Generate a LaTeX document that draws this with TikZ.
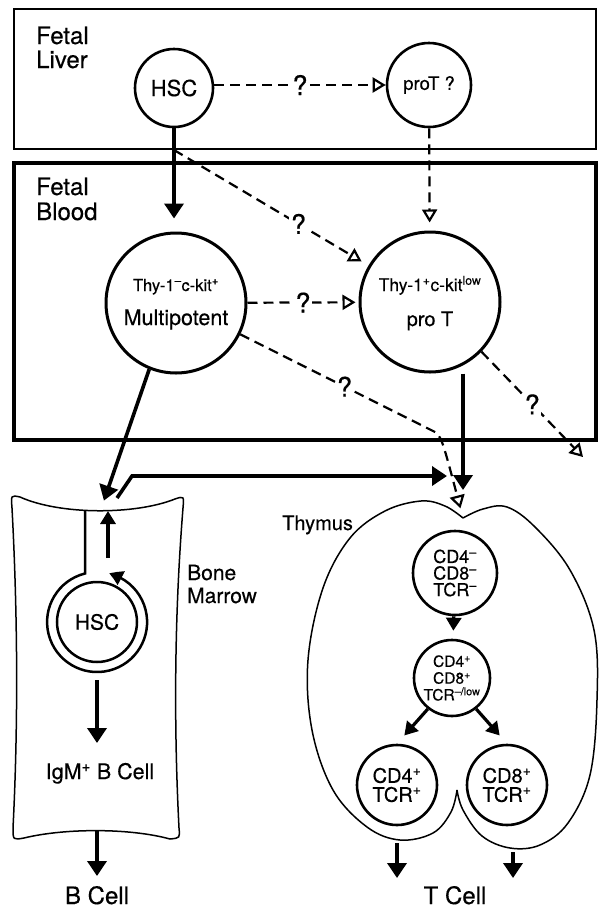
\documentclass[tikz,border=0pt]{standalone}
\usepackage{fontspec}
\setmainfont{TeX Gyre Heros}[FakeBold=0.4]
\usetikzlibrary{arrows.meta,calc,bending}
\newcommand\fsz[2]{\fontsize{#1}{#2}\selectfont}
\newcommand\supx[1]{\textsuperscript{#1}}
\tikzset{
 cell/.style={circle, draw, line width=2.6pt, inner sep=0pt, align=center},
 solidarr/.style={line width=3.6pt, line join=miter, -{Triangle[length=15pt,width=19pt]}},
 smallarr/.style={line width=3.2pt, -{Triangle[length=13pt,width=15pt]}},
 dasharr/.style={line width=2.2pt, dash pattern=on 10pt off 6pt, -{Triangle[open,length=13pt,width=15pt,line width=2.2pt]}},
 qmark/.style={fill=white, inner sep=1.5pt, font=\fsz{27}{27}},
 lab/.style={inner sep=0pt, anchor=base},
 organ/.style={line width=1.5pt},
}
\begin{document}
\begin{tikzpicture}[x=1pt,y=-1pt]
\useasboundingbox (0,0) rectangle (599,911);
% compartments
\draw[line width=1.5pt] (14,9) rectangle (596,149);
\draw[line width=4pt] (14,163) rectangle (596,440);
\node[lab, anchor=base west, font=\fsz{24}{24}] (fl1) at (36,44) {Fetal};
\node[lab, anchor=base west, font=\fsz{24}{24}] (fl2) at (36,68) {Liver};
\node[lab, anchor=base west, font=\fsz{24}{24}] (fb1) at (36,195) {Fetal};
\node[lab, anchor=base west, font=\fsz{24}{24}] (fb2) at (36,220) {Blood};

% cells
\node[cell, minimum size=78pt, font=\fsz{22}{22}] (hsc) at (174,88) {HSC};
\node[cell, minimum size=84pt, font=\fsz{18.5}{18.5}] (protq) at (429,85) {proT ?};
\node[cell, minimum size=140pt, line width=3pt] (multi) at (176,303) {};
\node[lab, font=\fsz{16.5}{16.5}] (multi1) at (176,291) {Thy-1\supx{–}c-kit\supx{+}};
\node[lab, font=\fsz{21.5}{21.5}] (multi2) at (176,325) {Multipotent};
\node[cell, minimum size=140pt, line width=3pt] (prot) at (430,302) {};
\node[lab, font=\fsz{17.5}{17.5}] (prot1) at (430,291) {Thy-1\supx{+}c-kit\supx{low}};
\node[lab, font=\fsz{20}{20}] (prot2) at (430,326) {pro T};

% coordinates
\coordinate (branch) at (174,150);
\coordinate (bendpt) at (437,433);
\coordinate (thytop) at (463,518);
\coordinate (rightend) at (583,457);
\coordinate (bmtop) at (100,512);
\coordinate (bmexit) at (117,498);
\coordinate (bmcorner) at (132,476);
\coordinate (thyentry) at (447,476);

% connectors top
\draw[dasharr] (hsc.east |- protq) -- node[qmark]{?} (protq.west);
\draw[solidarr, shorten >=13pt] (hsc.south) -- (hsc.south |- multi.north);
\draw[dasharr, shorten >=8pt] (branch) -- node[qmark, pos=0.64]{?} (prot);
\draw[dasharr, shorten >=8pt] (protq) -- (prot);
\draw[dasharr, shorten >=3pt] (multi) -- node[qmark]{?} (prot);
\draw[dasharr, shorten >=10pt] (multi.-26) -- node[qmark, pos=0.53]{?} (bendpt) .. controls (443,442) .. (thytop);
\draw[dasharr] (prot.-44) -- node[qmark]{?} (rightend);
\draw[solidarr, shorten >=28pt] (thytop |- prot.south) -- (thytop);
\draw[solidarr, shorten >=12pt] (multi.-112) -- (bmtop);
\draw[solidarr] (bmexit) -- (bmcorner) -- (thyentry);

% bone marrow
\draw[organ] (20,497) .. controls (60,515) and (135,515) .. (175,499)
  .. controls (184,496) .. (183,508)
  .. controls (174,620) and (174,730) .. (179,828)
  .. controls (180,838) .. (170,839)
  .. controls (130,828) and (65,828) .. (24,838)
  .. controls (13,840) .. (13,828)
  .. controls (18,730) and (18,620) .. (12,508)
  .. controls (11,495) .. (20,497) -- cycle;
\node[cell, minimum size=80pt, line width=2.5pt, font=\fsz{21}{21}] (bmhsc) at (97,622) {HSC};
\coordinate (tubetop) at (85,511);
\coordinate (ringstart) at (85,573.5);
\draw[line width=2.5pt, -{Triangle[length=13pt,width=15pt,bend]}] (tubetop) -- (ringstart) arc[start angle=256, end angle=-76, radius=50];
\coordinate (upstart) at (108,558);
\coordinate (upend) at (108,511);
\draw[smallarr] (upstart) -- (upend);
\node[lab, anchor=base west, font=\fsz{21}{21}] (bm1) at (187,580) {Bone};
\node[lab, anchor=base west, font=\fsz{21}{21}] (bm2) at (187,603) {Marrow};
\coordinate (bmdown) at (97,743);
\draw[solidarr, shorten <=17pt] (bmhsc.south) -- (bmdown);
\node[lab, font=\fsz{21.5}{21.5}] (igm) at (100,779) {IgM\supx{+} B Cell};
\coordinate (bmbot) at (97,831);
\coordinate (bcellarr) at (97,876);
\draw[solidarr] (bmbot) -- (bcellarr);
\node[lab, font=\fsz{24}{24}] (bcell) at (97,904) {B Cell};

% thymus
\draw[organ, line join=round] plot[smooth, tension=0.6] coordinates {(463,518) (445,506) (421,501) (385,511) (350,538) (323,588) (308,660) (312,730) (333,790) (367,827) (400,840) (433,833) (451,812) (457,790)};
\draw[organ, line join=round] plot[smooth, tension=0.6] coordinates {(457,790) (463,810) (482,836) (510,848) (540,845) (568,823) (590,775) (597,700) (594,630) (570,570) (535,527) (507,507) (483,509) (463,518)};
\node[lab, anchor=base west, font=\fsz{20}{20}] (thylab) at (282,530) {Thymus};
\node[cell, minimum size=84pt, font=\fsz{18}{16.6}] (dn) at (455,573) {CD4\supx{–}\\CD8\supx{–}\\TCR\supx{–}};
\node[cell, minimum size=76pt, font=\fsz{15.5}{16.8}] (dp) at (452,678) {CD4\supx{+}\\CD8\supx{+}\\TCR\supx{–/low}};
\node[cell, minimum size=80pt, font=\fsz{20}{19}] (cd4) at (397,785) {CD4\supx{+}\\TCR\supx{+}};
\node[cell, minimum size=80pt, font=\fsz{20}{19}] (cd8) at (507,785) {CD8\supx{+}\\TCR\supx{+}};
\draw[smallarr, shorten >=8pt] (dn) -- (dp);
\draw[smallarr, shorten >=11pt] (dp.232) -- (cd4.north);
\draw[smallarr, shorten >=11pt] (dp.308) -- (cd8.north);
\coordinate (tl0) at (397,843);
\coordinate (tl1) at (397,878);
\coordinate (tr0) at (513,852);
\coordinate (tr1) at (513,878);
\draw[solidarr] (tl0) -- (tl1);
\draw[solidarr] (tr0) -- (tr1);
\node[lab, font=\fsz{24}{24}] (tcell) at (455,904) {T Cell};
\end{tikzpicture}
\end{document}
